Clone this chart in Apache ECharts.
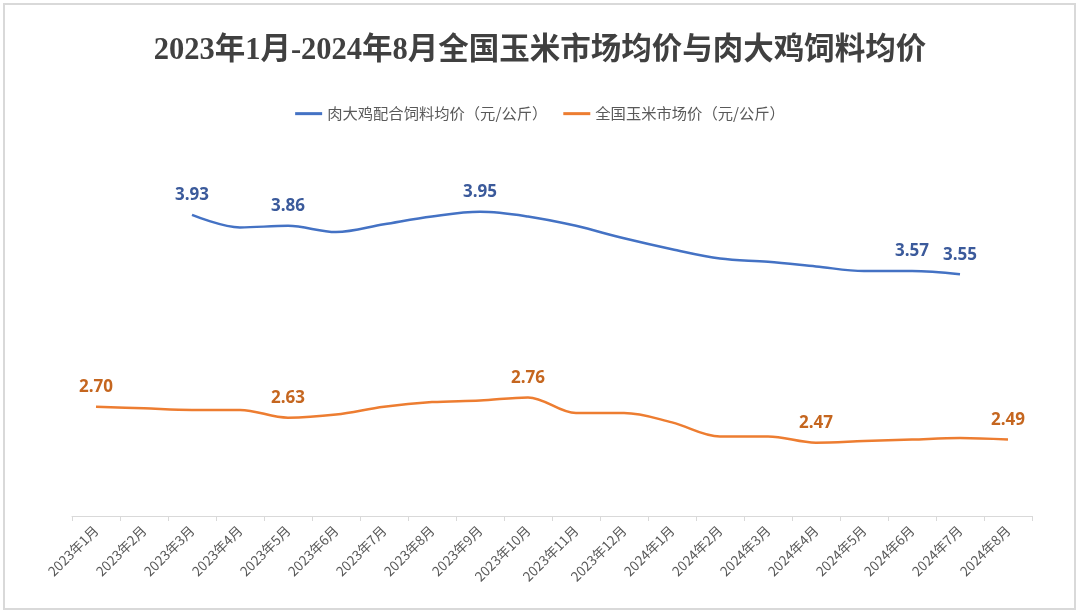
<!DOCTYPE html>
<html>
<head>
<meta charset="utf-8">
<script src="https://cdn.jsdelivr.net/npm/echarts@6/dist/echarts.min.js"></script>
<style>html,body{margin:0;padding:0;background:#fff;}#c{width:1080px;height:615px;}</style>
</head>
<body>
<div id="c"></div>
<script>
const categories = ['2023年1月','2023年2月','2023年3月','2023年4月','2023年5月','2023年6月','2023年7月','2023年8月','2023年9月','2023年10月','2023年11月','2023年12月','2024年1月','2024年2月','2024年3月','2024年4月','2024年5月','2024年6月','2024年7月','2024年8月'];
const feedPrice = [null, null, 3.93, 3.85, 3.86, 3.82, 3.87, 3.92, 3.95, 3.92, 3.86, 3.78, 3.71, 3.65, 3.63, 3.60, 3.57, 3.57, 3.55, null];
const cornPrice = [2.70, 2.69, 2.68, 2.68, 2.63, 2.65, 2.70, 2.73, 2.74, 2.76, 2.66, 2.66, 2.60, 2.51, 2.51, 2.47, 2.48, 2.49, 2.50, 2.49];
const feedLabelIdx = [2, 4, 8, 17, 18];
const cornLabelIdx = [0, 4, 9, 15, 19];
const feedName = '肉大鸡配合饲料均价（元/公斤）';
const cornName = '全国玉米市场价（元/公斤）';
const titleText = '2023年1月-2024年8月全国玉米市场均价与肉大鸡饲料均价';

function withLabels(vals, idx, color) {
  return vals.map((v, i) => ({
    value: v,
    label: { show: idx.includes(i), color: color }
  }));
}

const labelBase = { position: 'top', distance: 11, fontFamily: 'Open Sans, Noto Sans', fontWeight: 'bold', fontSize: 17, formatter: p => p.value.toFixed(2) };

const chart = echarts.init(document.getElementById('c'), null, { renderer: 'canvas' });
chart.setOption({
  animation: false,
  backgroundColor: '#fff',
  graphic: [{
    type: 'rect', shape: { x: 4, y: 4, width: 1071, height: 605 },
    style: { fill: 'none', stroke: '#d9d9d9', lineWidth: 2 }, silent: true
  }],
  title: {
    text: titleText, left: 'center', top: 31,
    textStyle: { fontFamily: 'Liberation Serif, Noto Sans CJK SC', fontSize: 30.5, fontWeight: 'bold', color: '#404040' }
  },
  legend: {
    top: 101, left: 'center', itemWidth: 27, itemHeight: 3, itemGap: 16,
    icon: 'rect',
    textStyle: { fontFamily: 'Noto Sans CJK SC', fontSize: 15.3, color: '#595959' },
    data: [feedName, cornName]
  },
  grid: { left: 72, right: 48, top: 126, bottom: 99, containLabel: false },
  xAxis: {
    type: 'category', data: categories, boundaryGap: true,
    axisLine: { lineStyle: { color: '#d9d9d9', width: 1 } },
    axisTick: { show: true, length: 5, lineStyle: { color: '#d9d9d9' } },
    axisLabel: { rotate: 45, margin: 12, fontFamily: 'Noto Sans CJK SC', fontSize: 13.5, color: '#595959', interval: 0 }
  },
  yAxis: {
    type: 'value', min: 2, max: 4.5, show: false, splitLine: { show: false }
  },
  series: [
    {
      name: feedName, type: 'line', smooth: 0.35, symbol: 'circle', symbolSize: 0, showSymbol: true,
      connectNulls: false,
      lineStyle: { color: '#4472c4', width: 2.5 },
      itemStyle: { color: '#4472c4' },
      label: labelBase,
      data: withLabels(feedPrice, feedLabelIdx, '#3b5a9b')
    },
    {
      name: cornName, type: 'line', smooth: 0.35, symbol: 'circle', symbolSize: 0, showSymbol: true,
      lineStyle: { color: '#ed7d31', width: 2.5 },
      itemStyle: { color: '#ed7d31' },
      label: labelBase,
      data: withLabels(cornPrice, cornLabelIdx, '#c5661f')
    }
  ]
});
</script>
</body>
</html>
